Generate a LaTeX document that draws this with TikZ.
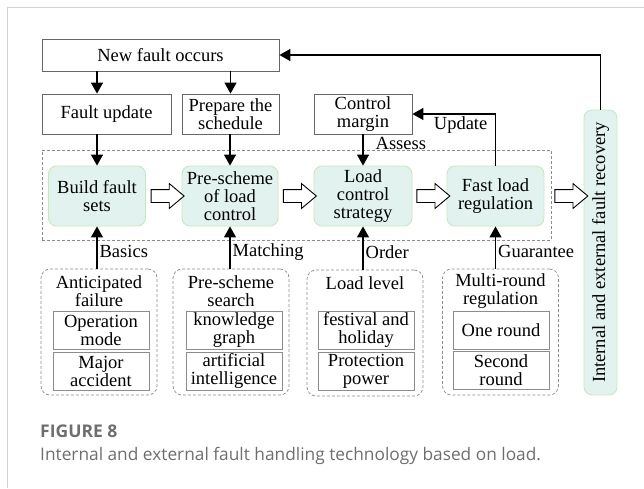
\documentclass[tikz,border=0pt]{standalone}
\usepackage{fontspec}
\usepackage{graphicx}
\setmainfont{Liberation Serif}
\newfontfamily\capfont{Open Sans}
\usetikzlibrary{arrows.meta,shapes.arrows,calc,positioning}
\definecolor{cMint}{HTML}{E2F3EF}
\definecolor{cMintLine}{HTML}{C8E7C0}
\definecolor{cFrame}{HTML}{D2D2D2}
\definecolor{cDash}{HTML}{8C8C8C}
\definecolor{cCap}{HTML}{6E6E6E}
\tikzset{
  txt/.style={font=\fontsize{18.5}{18}\selectfont, align=center, inner sep=0pt},
  topbox/.style={txt, draw=black!60, line width=0.8pt, minimum height=40pt},
  stage/.style={txt, draw=cMintLine, fill=cMint, line width=0.9pt, rounded corners=8pt, minimum width=97pt, minimum height=60pt},
  coreline/.style={draw=cDash, line width=0.7pt, dash pattern=on 3pt off 2pt},
  grpbox/.style={coreline, rounded corners=9pt, minimum width=116pt, minimum height=126pt},
  subbox/.style={txt, draw=black!45, line width=0.9pt, minimum width=96pt, minimum height=38pt},
  arr/.style={line width=1.3pt, -{Triangle[length=11pt,width=12pt]}},
  lbl/.style={txt, inner sep=2pt},
  hollow/.style={draw=black, line width=0.9pt, fill=white, single arrow, single arrow head extend=6pt, single arrow tip angle=80, minimum height=33pt, inner sep=0pt, text height=12pt, text depth=0pt},
}
\begin{document}
\begin{tikzpicture}[x=1pt,y=-1pt]
\useasboundingbox (0,0) rectangle (644,488);
\draw[cFrame, line width=1pt] (7,488) -- (7,7) -- (644,7);
% top row
\node[topbox, minimum width=237pt, minimum height=32pt] (newfault) at (160.5,55) {New fault occurs};
\node[topbox, minimum width=129pt] (faultupd) at (106.5,114) {Fault update};
\node[topbox, minimum width=97pt] (prepare) at (230.5,114) {Prepare the\\schedule};
\node[topbox, minimum width=98pt] (ctrlmargin) at (363,114) {Control\\margin};
% stages
\node[coreline, minimum width=509pt, minimum height=90pt] (core) at (296.5,195) {};
\node[stage] (build) at (97,196) {Build fault\\sets};
\node[stage, minimum width=96pt] (prescheme) at (230,196) {Pre-scheme\\of load\\control};
\node[stage, minimum width=98pt] (loadctrl) at (363,196) {Load\\control\\strategy};
\node[stage] (fastload) at (495.5,196) {Fast load\\regulation};
\node[stage, minimum width=33pt, minimum height=285pt] (recovery) at (600.5,252.5) {\rotatebox{90}{Internal and external fault recovery}};
\foreach \a/\b in {build/prescheme, prescheme/loadctrl, loadctrl/fastload}
  \node[hollow] at ($(\a.east)!0.5!(\b.west)$) {};
\node[hollow] at ($(core.east |- fastload)!0.5!(recovery.west |- fastload)$) {};
% lower groups
\node[grpbox] (antic) at (99,332) {};
\node[txt] (antictitle) at (99,291) {Anticipated\\failure};
\node[subbox] (opmode) at (101,330) {Operation\\mode};
\node[subbox] (major) at (101,371) {Major\\accident};
\node[grpbox] (search) at (231,332) {};
\node[txt] (searchtitle) at (231,291) {Pre-scheme\\search};
\node[subbox] (knowledge) at (234,330) {knowledge\\graph};
\node[subbox] (artificial) at (234,371) {artificial\\intelligence};
\node[grpbox] (loadlevel) at (365,333) {};
\node[txt] (loadleveltitle) at (365,283) {Load level};
\node[subbox] (festival) at (366,330) {festival and\\holiday};
\node[subbox] (protect) at (366,371) {Protection\\power};
\node[grpbox] (multi) at (500.5,332) {};
\node[txt] (multititle) at (500.5,291) {Multi-round\\regulation};
\node[subbox] (oneround) at (501,330) {One round};
\node[subbox] (secround) at (501,370) {Second\\round};
% connectors
\draw[arr] (build.north |- newfault.south) -- (build.north |- faultupd.north);
\draw[arr] (prepare.north |- newfault.south) -- (prepare.north);
\draw[arr] (build.north |- faultupd.south) -- (build.north);
\draw[arr] (prescheme.north |- prepare.south) -- (prescheme.north);
\draw[arr] (ctrlmargin.south) -- (loadctrl.north) node[lbl, pos=0.28, right=10pt] {Assess};
\draw[arr] (fastload.north) |- (ctrlmargin.east) node[lbl, pos=0.71, below] {Update};
\draw[arr] (recovery.north) |- (newfault.east);
\draw[arr] (build.south |- antic.north) -- (build.south) node[lbl, pos=0.4, right] {Basics};
\draw[arr] (prescheme.south |- search.north) -- (prescheme.south) node[lbl, pos=0.4, right] {Matching};
\draw[arr] (loadctrl.south |- loadlevel.north) -- (loadctrl.south) node[lbl, pos=0.4, right] {Order};
\draw[arr] (fastload.south |- multi.north) -- (fastload.south) node[lbl, pos=0.4, right] {Guarantee};
% caption
\node[anchor=base west, inner sep=0pt, text=cCap, font={\capfont\fontsize{17.5}{18}\selectfont\bfseries}] (figno) at (40,437) {FIGURE 8};
\node[anchor=base west, inner sep=0pt, text=cCap, font={\capfont\fontsize{17.3}{18}\selectfont}] (figcap) at (40,460) {Internal and external fault handling technology based on load.};
\end{tikzpicture}
\end{document}
